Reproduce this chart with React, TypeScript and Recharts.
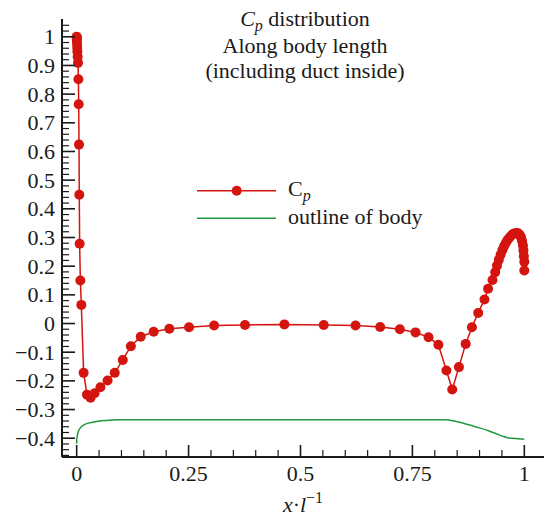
import { LineChart, Line, XAxis, YAxis, Legend } from 'recharts';

// Pressure coefficient along the body (x / l)
const cpX = [
  0, 0.0001, 0.0003, 0.0005, 0.0008, 0.0012, 0.0016, 0.0022, 0.003, 0.0038,
  0.0045, 0.0052, 0.0058, 0.0066, 0.0082, 0.0104, 0.0155, 0.023, 0.031, 0.04,
  0.053, 0.069, 0.085, 0.103, 0.121, 0.143, 0.172, 0.207, 0.251, 0.307,
  0.376, 0.464, 0.552, 0.623, 0.678, 0.722, 0.757, 0.786, 0.808, 0.826,
  0.839, 0.854, 0.869, 0.883, 0.897, 0.911, 0.919, 0.929, 0.935, 0.939,
  0.943, 0.947, 0.951, 0.955, 0.959, 0.963, 0.967, 0.971, 0.975, 0.979,
  0.983, 0.987, 0.99, 0.993, 0.995, 0.997, 0.998, 0.999, 1, 1,
];
const cpY = [
  1.0, 0.998, 0.992, 0.985, 0.975, 0.962, 0.948, 0.93, 0.909, 0.852,
  0.765, 0.624, 0.449, 0.278, 0.15, 0.065, -0.172, -0.248, -0.259, -0.243,
  -0.222, -0.199, -0.172, -0.127, -0.079, -0.046, -0.029, -0.018, -0.013, -0.007,
  -0.005, -0.003, -0.005, -0.007, -0.012, -0.02, -0.031, -0.048, -0.074, -0.164,
  -0.23, -0.152, -0.071, -0.013, 0.037, 0.084, 0.121, 0.152, 0.179, 0.202,
  0.222, 0.24, 0.256, 0.27, 0.282, 0.292, 0.3, 0.307, 0.312, 0.315,
  0.316, 0.314, 0.309, 0.3, 0.288, 0.272, 0.255, 0.235, 0.215, 0.185,
];

// Body outline, drawn on the same axes
const bodyX = [
  0, 0.0003, 0.0015, 0.0067, 0.018, 0.036, 0.066, 0.096, 0.2, 0.4,
  0.6, 0.826, 0.84, 0.86, 0.88, 0.9, 0.92, 0.94, 0.955, 0.965,
  0.98, 1,
];
const bodyY = [
  -0.419, -0.402, -0.39, -0.367, -0.352, -0.344, -0.338, -0.336, -0.336, -0.336,
  -0.336, -0.336, -0.339, -0.346, -0.355, -0.364, -0.374, -0.386, -0.395, -0.399,
  -0.401, -0.404,
];

const xMajorTicks = [0, 0.25, 0.5, 0.75, 1];
const xTickLabels = ['0', '0.25', '0.5', '0.75', '1'];
const yMajorTicks = [-0.4, -0.3, -0.2, -0.1, 0, 0.1, 0.2, 0.3, 0.4, 0.5, 0.6, 0.7, 0.8, 0.9, 1];
const yTickLabels = ['−0.4', '−0.3', '−0.2', '−0.1', '0', '0.1', '0.2', '0.3', '0.4', '0.5', '0.6', '0.7', '0.8', '0.9', '1'];

// minor ticks: every 0.05 along x, every 0.02 along y
const xTicks = Array.from({ length: 21 }, (_, i) => i / 20);
const yTicks = Array.from({ length: 76 }, (_, i) => Math.round((i - 23) * 2) / 100);

const cpData = cpX.map((x, i) => ({ x, y: cpY[i] }));
const bodyData = bodyX.map((x, i) => ({ x, y: bodyY[i] }));

const W = 544;
const H = 515;
const PLOT_LEFT = 62;
const PLOT_TOP = 19;
const PLOT_BOTTOM = 457;
const FONT = '"Liberation Serif", "Times New Roman", serif';
const RED = '#d4150f';
const GREEN = '#1f9a3c';
const INK = '#1a1a1a';

function XTick(props: any) {
  const { x, payload } = props;
  const v = payload.value;
  const idx = xMajorTicks.findIndex((t) => Math.abs(t - v) < 1e-6);
  const major = idx >= 0;
  return (
    <g>
      <line
        x1={x}
        x2={x}
        y1={PLOT_BOTTOM}
        y2={PLOT_BOTTOM - (major ? 12 : 7)}
        stroke={INK}
        strokeWidth={major ? 1.6 : 1.2}
      />
      {major && (
        <text x={x} y={PLOT_BOTTOM + 23.5} textAnchor="middle" fontFamily={FONT} fontSize={22} fill={INK}>
          {xTickLabels[idx]}
        </text>
      )}
    </g>
  );
}

function YTick(props: any) {
  const { y, payload } = props;
  const v = payload.value;
  const idx = yMajorTicks.findIndex((t) => Math.abs(t - v) < 1e-6);
  const major = idx >= 0;
  return (
    <g>
      <line
        x1={PLOT_LEFT}
        x2={PLOT_LEFT + (major ? 13 : 7)}
        y1={y}
        y2={y}
        stroke={INK}
        strokeWidth={major ? 1.6 : 1.2}
      />
      {major && (
        <text x={PLOT_LEFT - 7} y={y + 7.5} textAnchor="end" fontFamily={FONT} fontSize={22} fill={INK}>
          {yTickLabels[idx]}
        </text>
      )}
    </g>
  );
}

function LegendBox() {
  return (
    <svg width={240} height={60} style={{ display: 'block' }}>
      <line x1={7} x2={86} y1={15.7} y2={15.7} stroke={RED} strokeWidth={1.5} />
      <circle cx={46.7} cy={15.7} r={5} fill={RED} />
      <text x={98} y={20.5} fontFamily={FONT} fontSize={22} fill={INK}>
        C<tspan fontStyle="italic" fontSize={16} dy={5}>p</tspan>
      </text>
      <line x1={7} x2={86} y1={43.3} y2={43.3} stroke={GREEN} strokeWidth={1.5} />
      <text x={98} y={49} fontFamily={FONT} fontSize={22} fill={INK}>
        outline of body
      </text>
    </svg>
  );
}

export default function App() {
  return (
    <div style={{ position: 'absolute', left: 0, top: 0, width: W, height: H, background: '#fff' }}>
      <LineChart
        width={W}
        height={H}
        margin={{ top: PLOT_TOP, left: 0, right: 0, bottom: 0 }}
      >
        <XAxis
          type="number"
          dataKey="x"
          domain={[-0.0328, 1.044]}
          allowDataOverflow
          ticks={xTicks}
          interval={0}
          height={H - PLOT_BOTTOM}
          tickLine={false}
          axisLine={{ stroke: INK, strokeWidth: 2 }}
          tick={<XTick />}
        />
        <YAxis
          type="number"
          domain={[-0.4655, 1.062]}
          allowDataOverflow
          ticks={yTicks}
          interval={0}
          width={PLOT_LEFT}
          tickLine={false}
          axisLine={{ stroke: INK, strokeWidth: 2 }}
          tick={<YTick />}
        />
        <Legend
          layout="vertical"
          align="center"
          verticalAlign="middle"
          wrapperStyle={{ left: 190, top: 175, width: 240, height: 60 }}
          content={() => <LegendBox />}
        />
        <Line
          name="outline of body"
          data={bodyData}
          dataKey="y"
          type="monotone"
          stroke={GREEN}
          strokeWidth={1.5}
          dot={false}
          activeDot={false}
          isAnimationActive={false}
        />
        <Line
          name="Cp"
          data={cpData}
          dataKey="y"
          type="linear"
          stroke={RED}
          strokeWidth={1.5}
          dot={{ r: 5, fill: RED, stroke: RED, strokeWidth: 0 }}
          activeDot={false}
          isAnimationActive={false}
        />
      </LineChart>
      <svg
        width={W}
        height={H}
        style={{ position: 'absolute', left: 0, top: 0, pointerEvents: 'none' }}
      >
        <g fontFamily={FONT} fontSize={22} fill={INK} textAnchor="middle">
          <text x={305} y={26}>
            <tspan fontStyle="italic">C</tspan>
            <tspan fontStyle="italic" fontSize={16} dy={5}>p</tspan>
            <tspan dy={-5}> distribution</tspan>
          </text>
          <text x={305} y={53}>Along body length</text>
          <text x={305} y={77.5}>(including duct inside)</text>
          <text x={303} y={511.5}>
            <tspan fontStyle="italic">x</tspan>
            <tspan>·</tspan>
            <tspan fontStyle="italic">l</tspan>
            <tspan fontSize={16} dy={-9}>−1</tspan>
          </text>
        </g>
      </svg>
    </div>
  );
}
